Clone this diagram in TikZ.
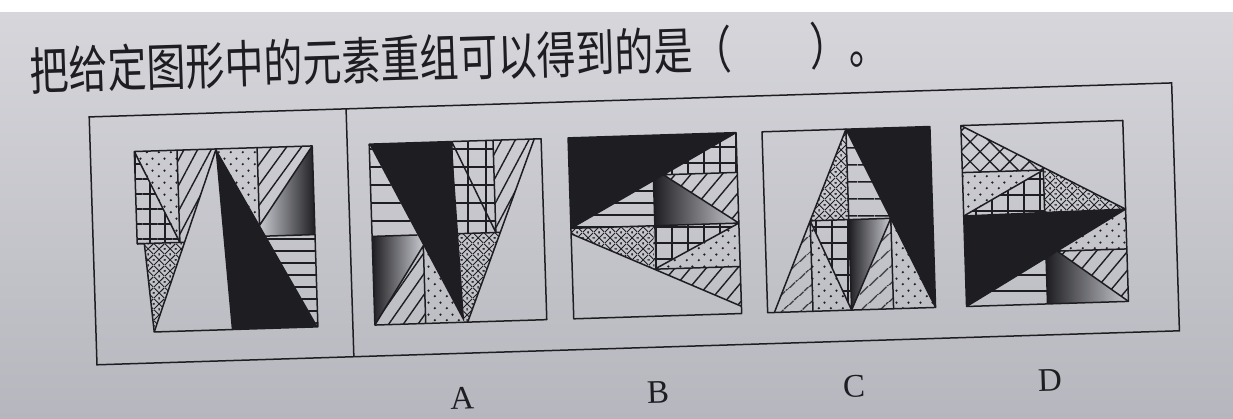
\documentclass[tikz,border=0pt]{standalone}
\usepackage{graphicx}
\usepackage{fontspec}
\setmainfont{Liberation Serif}
\newfontfamily\cjk{Noto Sans CJK SC}
\usetikzlibrary{patterns,patterns.meta}
\definecolor{ink}{RGB}{30,30,34}
\definecolor{paper}{RGB}{200,201,207}
\definecolor{papertop}{RGB}{214,214,219}
\definecolor{paperbot}{RGB}{182,183,190}

% tiles for the dotted pieces
\pgfdeclarepatternformonly{spots}{\pgfqpoint{0pt}{0pt}}{\pgfqpoint{12pt}{12pt}}{\pgfqpoint{12pt}{12pt}}{%
  \pgfpathcircle{\pgfqpoint{3pt}{3pt}}{1.3pt}%
  \pgfpathcircle{\pgfqpoint{9pt}{9pt}}{1.3pt}%
  \pgfusepath{fill}}
\pgfdeclarepatternformonly{crossdots}{\pgfqpoint{0pt}{0pt}}{\pgfqpoint{11pt}{11pt}}{\pgfqpoint{11pt}{11pt}}{%
  \pgfsetlinewidth{1pt}%
  \pgfpathmoveto{\pgfqpoint{0pt}{0pt}}\pgfpathlineto{\pgfqpoint{11pt}{11pt}}%
  \pgfpathmoveto{\pgfqpoint{0pt}{11pt}}\pgfpathlineto{\pgfqpoint{11pt}{0pt}}%
  \pgfusepath{stroke}%
  \pgfpathcircle{\pgfqpoint{5.5pt}{0pt}}{1pt}%
  \pgfpathcircle{\pgfqpoint{5.5pt}{11pt}}{1pt}%
  \pgfpathcircle{\pgfqpoint{0pt}{5.5pt}}{1pt}%
  \pgfpathcircle{\pgfqpoint{11pt}{5.5pt}}{1pt}%
  \pgfusepath{fill}}

% fills for the pieces: #1 region, then angle / gap in pt
\newcommand\hatchfill[3]{\fill[pattern={Lines[angle=#2, distance=#3pt, line width=1.4pt]}, pattern color=ink] #1;}
\newcommand\gridfill[2]{\fill[pattern={Hatch[distance=#2pt, line width=1.3pt]}, pattern color=ink] #1;}
\newcommand\spotfill[1]{\fill[pattern=spots, pattern color=ink] #1;}
\newcommand\xspotfill[1]{\fill[pattern=crossdots, pattern color=ink] #1;}

\begin{document}
\begin{tikzpicture}[x=1pt, y=1pt,
    edge/.style={draw=ink, line width=1.5pt, line join=round},
    frame/.style={draw=ink, line width=1.5pt},
    optlabel/.style={font=\fontsize{33}{33}\selectfont, text=ink,
      transform shape, inner sep=0pt}
  ]
  \useasboundingbox (0,0) rectangle (1233,-419);
  \shade[top color=papertop, bottom color=paperbot] (0,-12) rectangle (1233,-419);
  \fill[white] (0,0) rectangle (1233,-12);

  \begin{scope}[rotate around={1.8:(630,-230)}]

  % --- Question ---
  \node[anchor=west, transform shape, inner sep=0pt, text=ink,
    font=\cjk\fontsize{39}{39}\selectfont] (title) at (35,-52)
    {\scalebox{1}[1.3]{把给定图形中的元素重组可以得到的是（　　）。}};

  % --- Frame ---
  \draw[frame] (93,-100) rectangle (1176,-348);
  \draw[frame] (350,-100) -- (350,-348);

  % --- Given figure ---
  \begin{scope}[shift={(137,-136)}, x={(178pt,0pt)}, y={(0pt,-181pt)}]
    \spotfill{(0,0)--(0.24,0)--(0.24,0.51)--cycle}
    \gridfill{(0,0)--(0,0.51)--(0.24,0.51)--cycle}{15}
    \hatchfill{(0.24,0)--(0.46,0)--(0.266,0.51)--(0.24,0.51)--cycle}{62}{12}
    \xspotfill{(0.04,0.51)--(0.266,0.51)--(0.08,1)--cycle}
    \spotfill{(0.46,0)--(0.69,0)--(0.69,0.43)--cycle}
    \hatchfill{(0.69,0)--(1,0)--(0.69,0.43)--cycle}{54}{12}
    \shade[left color=paper, right color=ink] (1,0)--(1,0.49)--(0.72,0.49)--(0.69,0.43)--cycle;
    \hatchfill{(0.72,0.49)--(1,0.49)--(1,1)--cycle}{0}{12}
    \fill[ink] (0.46,0)--(0.52,1)--(1,1)--cycle;
    \draw[edge] (0,0)--(1,0)--(1,1)--(0.08,1)--(0.04,0.51)--(0,0.51)--cycle;
    \draw[edge] (0,0)--(0.24,0.51) (0.24,0)--(0.24,0.51) (0,0.51)--(0.266,0.51)
      (0.46,0)--(0.08,1) (0.46,0)--(0.52,1) (0.69,0)--(0.69,0.43)
      (1,0)--(0.69,0.43) (0.72,0.49)--(1,0.49);
  \end{scope}

  % --- Option A ---
  \begin{scope}[shift={(372,-136)}, x={(172pt,0pt)}, y={(0pt,-181pt)}]
    \hatchfill{(0,0)--(0.265,0.51)--(0,0.51)--cycle}{0}{18}
    \shade[left color=ink, right color=paper] (0,0.51)--(0.265,0.51)--(0.296,0.57)--(0,1)--cycle;
    \hatchfill{(0,1)--(0.296,0.57)--(0.296,1)--cycle}{55}{12}
    \spotfill{(0.296,0.57)--(0.296,1)--(0.52,1)--cycle}
    \gridfill{(0.48,0)--(0.72,0)--(0.72,0.51)--(0.48,0.51)--cycle}{18}
    \hatchfill{(0.72,0)--(0.96,0)--(0.745,0.51)--(0.72,0.51)--cycle}{62}{12}
    \xspotfill{(0.50,0.51)--(0.745,0.51)--(0.54,1)--(0.52,1)--cycle}
    \fill[ink] (0,0)--(0.48,0)--(0.52,1)--cycle;
    \draw[edge] (0,0) rectangle (1,1);
    \draw[edge] (0,0.51)--(0.265,0.51) (0,1)--(0.296,0.57)--(0.296,1)
      (0.48,0)--(0.48,0.51)--(0.745,0.51) (0.48,0)--(0.72,0.51)
      (0.72,0)--(0.72,0.51) (0.96,0)--(0.54,1);
  \end{scope}

  % --- Option B ---
  \begin{scope}[shift={(571,-136)}, x={(168pt,0pt)}, y={(0pt,-181pt)}]
    \gridfill{(1,0)--(1,0.22)--(0.56,0.22)--cycle}{16}
    \hatchfill{(1,0.22)--(1,0.5)--(0.56,0.22)--cycle}{50}{12}
    \shade[left color=ink, right color=paper] (0.56,0.22)--(1,0.5)--(0.5,0.5)--(0.5,0.25)--cycle;
    \hatchfill{(0,0.5)--(0.5,0.25)--(0.5,0.5)--cycle}{0}{12}
    \fill[ink] (0,0)--(1,0)--(0,0.5)--cycle;
    \xspotfill{(0,0.5)--(0.49,0.5)--(0.49,0.74)--(0,0.53)--cycle}
    \gridfill{(1,0.5)--(0.49,0.5)--(0.49,0.74)--cycle}{16}
    \spotfill{(1,0.5)--(1,0.74)--(0.49,0.74)--cycle}
    \hatchfill{(0.49,0.74)--(1,0.74)--(1,0.96)--cycle}{50}{12}
    \draw[edge] (0,0) rectangle (1,1);
    \draw[edge] (0,0.5)--(1,0) (0.56,0.22)--(1,0.22) (0.56,0.22)--(1,0.5)
      (0.5,0.25)--(0.5,0.74) (0,0.5)--(1,0.5) (0.49,0.74)--(1,0.74)
      (0.49,0.74)--(1,0.5) (0,0.53)--(1,0.96);
  \end{scope}

  % --- Option C ---
  \begin{scope}[shift={(765,-136)}, x={(168pt,0pt)}, y={(0pt,-181pt)}]
    \xspotfill{(0.5,0)--(0.5,0.5)--(0.27,0.5)--cycle}
    \hatchfill{(0.5,0)--(0.75,0.5)--(0.5,0.5)--cycle}{0}{17}
    \hatchfill{(0.27,0.5)--(0.27,1)--(0.04,1)--cycle}{42}{13}
    \gridfill{(0.27,0.5)--(0.5,0.5)--(0.5,1)--cycle}{16}
    \spotfill{(0.27,0.5)--(0.27,1)--(0.5,1)--cycle}
    \shade[left color=ink, right color=paper] (0.5,0.5)--(0.75,0.5)--(0.5,1)--cycle;
    \hatchfill{(0.75,0.5)--(0.75,1)--(0.5,1)--cycle}{42}{13}
    \spotfill{(0.75,0.5)--(0.75,1)--(1,1)--cycle}
    \fill[ink] (0.5,0)--(1,0)--(1,1)--cycle;
    \draw[edge] (0,0) rectangle (1,1);
    \draw[edge] (0.04,1)--(0.5,0)--(1,1) (0.5,0)--(0.5,1) (0.27,0.5)--(0.75,0.5)
      (0.27,0.5)--(0.27,1) (0.27,0.5)--(0.5,1) (0.75,0.5)--(0.75,1) (0.75,0.5)--(0.5,1);
  \end{scope}

  % --- Option D ---
  \begin{scope}[shift={(964,-136)}, x={(162pt,0pt)}, y={(0pt,-181pt)}]
    \fill[pattern={Hatch[angle=45, distance=14pt, line width=1.3pt]}, pattern color=ink]
      (0,0)--(0.5,0.245)--(0.5,0.26)--(0,0.26)--cycle;
    \spotfill{(0,0.26)--(0.5,0.26)--(0,0.5)--cycle}
    \gridfill{(0.5,0.26)--(0.5,0.5)--(0,0.5)--cycle}{16}
    \xspotfill{(0.5,0.245)--(1,0.49)--(0.5,0.5)--cycle}
    \spotfill{(1,0.49)--(1,0.71)--(0.57,0.71)--cycle}
    \hatchfill{(1,0.71)--(1,1)--(0.57,0.71)--cycle}{50}{12}
    \shade[left color=ink, right color=paper] (0.57,0.71)--(1,1)--(0.5,1)--(0.5,0.745)--cycle;
    \hatchfill{(0,1)--(0.5,0.745)--(0.5,1)--cycle}{0}{16}
    \fill[ink] (0,0.5)--(1,0.49)--(0,1)--cycle;
    \draw[edge] (0,0) rectangle (1,1);
    \draw[edge] (0,0)--(1,0.49) (0,0.26)--(0.5,0.26) (0.5,0.245)--(0.5,0.5)
      (0,0.5)--(0.5,0.26) (0,0.5)--(1,0.49)--(0,1) (0.57,0.71)--(1,0.71)
      (0.57,0.71)--(1,1) (0.5,0.745)--(0.5,1);
  \end{scope}

  % --- Option letters ---
  \node[optlabel] (labA) at (457,-393) {A};
  \node[optlabel] (labB) at (653,-393) {B};
  \node[optlabel] (labC) at (849,-393) {C};
  \node[optlabel] (labD) at (1045,-393) {D};

  \end{scope}
\end{tikzpicture}
\end{document}
